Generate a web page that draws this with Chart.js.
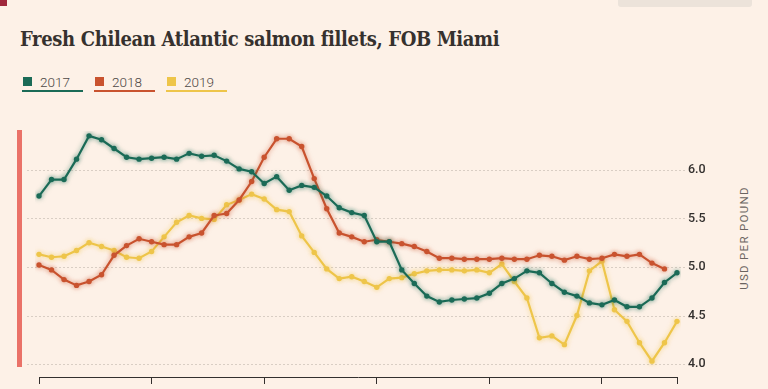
<!DOCTYPE html>
<html>
<head>
<meta charset="utf-8">
<script src="https://cdn.jsdelivr.net/npm/chart.js@4"></script>
<style>
  html, body { margin: 0; padding: 0; background: #fdf1e7; overflow: hidden; }
  body { width: 768px; height: 389px; position: relative; font-family: Roboto, "Noto Sans", sans-serif; }
  .wrap { position: absolute; left: 0; top: 0; width: 768px; height: 410px; }
  .title { position: absolute; left: 20px; top: 27px; font: bold 20px "DejaVu Serif Condensed", "DejaVu Serif", serif; color: #36312e; letter-spacing: -0.35px; white-space: nowrap; }
  .legend { position: absolute; left: 22px; top: 75px; display: flex; gap: 11px; }
  .legend .item { width: 61px; height: 15px; border-bottom: 2px solid; position: relative; }
  .legend .sw { position: absolute; left: 1px; top: 2px; width: 9px; height: 9px; }
  .legend .lab { position: absolute; left: 18px; top: -1px; font: 300 13.5px Roboto, sans-serif; color: #4d4845; }
  .bar { position: absolute; left: 17px; top: 130px; width: 5px; height: 237px; background: #ea7268; }
  .mark { position: absolute; left: 0; top: 0; width: 7px; height: 6px; background: #a0283c; }
  .btn { position: absolute; left: 618px; top: 0; width: 134px; height: 7px; background: #ece3da; border-radius: 0 0 3px 3px; }
  .ytitle { position: absolute; left: 744px; top: 238px; transform: translate(-50%, -50%) rotate(-90deg); font: 11.5px Roboto, sans-serif; letter-spacing: 1.3px; color: #6b6460; white-space: nowrap; }
</style>
</head>
<body>
<div class="mark"></div>
<div class="btn"></div>
<div class="title">Fresh Chilean Atlantic salmon fillets, FOB Miami</div>
<div class="legend" id="legend"></div>
<div class="bar"></div>
<div class="ytitle">USD PER POUND</div>
<div class="wrap"><canvas id="chart"></canvas></div>
<script>
const weeks = ["01","02","03","04","05","06","07","08","09","10","11","12","13","14","15","16","17","18","19","20",
  "21","22","23","24","25","26","27","28","29","30","31","32","33","34","35","36","37","38","39","40",
  "41","42","43","44","45","46","47","48","49","50","51","52"];

const tickWeeks = ["01", "10", "19", "28", "37", "46", "52"];
const tickLabels = ["01", "10", "19", "28", "37", "46", ""];
const yTicks = [4.0, 4.5, 5.0, 5.5, 6.0];

const seriesNames = ["2017", "2018", "2019"];
const seriesColors = ["#1b6b57", "#c9532f", "#eec54a"];

const s2017 = [5.73, 5.90, 5.90, 6.11, 6.35, 6.31, 6.22, 6.13, 6.11, 6.12, 6.13, 6.11, 6.17, 6.14, 6.15, 6.09,
  6.01, 5.98, 5.86, 5.93, 5.79, 5.84, 5.82, 5.73, 5.61, 5.56, 5.53, 5.26, 5.26, 4.97, 4.83, 4.70,
  4.64, 4.66, 4.67, 4.68, 4.73, 4.83, 4.88, 4.96, 4.94, 4.83, 4.74, 4.70, 4.63, 4.61, 4.66, 4.59,
  4.59, 4.68, 4.84, 4.94];
const s2018 = [5.02, 4.97, 4.87, 4.81, 4.85, 4.92, 5.12, 5.22, 5.29, 5.26, 5.23, 5.23, 5.31, 5.35, 5.53, 5.55,
  5.69, 5.88, 6.13, 6.32, 6.32, 6.24, 5.91, 5.60, 5.35, 5.31, 5.26, 5.28, 5.26, 5.24, 5.21, 5.16,
  5.09, 5.09, 5.08, 5.08, 5.08, 5.09, 5.08, 5.08, 5.12, 5.11, 5.07, 5.11, 5.08, 5.09, 5.13, 5.11,
  5.13, 5.04, 4.98, null];
const s2019 = [5.13, 5.10, 5.11, 5.17, 5.25, 5.21, 5.17, 5.10, 5.09, 5.16, 5.31, 5.46, 5.53, 5.50, 5.49, 5.64,
  5.69, 5.75, 5.70, 5.59, 5.57, 5.32, 5.15, 4.98, 4.88, 4.90, 4.85, 4.79, 4.88, 4.89, 4.93, 4.96,
  4.97, 4.97, 4.96, 4.97, 4.94, 5.03, 4.85, 4.68, 4.27, 4.29, 4.20, 4.50, 4.96, 5.06, 4.56, 4.44,
  4.22, 4.03, 4.22, 4.44];
const seriesData = [s2017, s2018, s2019];

// html legend
const legend = document.getElementById("legend");
seriesNames.forEach((name, i) => {
  const item = document.createElement("div");
  item.className = "item";
  item.style.borderColor = seriesColors[i];
  item.innerHTML = `<span class="sw" style="background:${seriesColors[i]}"></span><span class="lab">${name}</span>`;
  legend.appendChild(item);
});

const dottedGrid = {
  id: "dottedGrid",
  beforeDatasetsDraw(chart) {
    const y = chart.scales.y;
    const ctx = chart.ctx;
    ctx.save();
    ctx.strokeStyle = "#d9cec4";
    ctx.lineWidth = 1;
    ctx.setLineDash([2, 2]);
    yTicks.forEach(v => {
      const py = Math.round(y.getPixelForValue(v)) + 0.5;
      ctx.beginPath();
      ctx.moveTo(27, py);
      ctx.lineTo(686, py);
      ctx.stroke();
    });
    ctx.restore();
  }
};

const glow = {
  id: "glow",
  beforeDatasetDraw(chart, args) {
    const ctx = chart.ctx;
    ctx.save();
    ctx.shadowColor = seriesColors[args.index] + "99";
    ctx.shadowBlur = 5;
  },
  afterDatasetDraw(chart) {
    chart.ctx.restore();
  }
};

new Chart(document.getElementById("chart"), {
  type: "line",
  data: {
    labels: weeks,
    datasets: seriesNames.map((name, i) => ({
      label: name,
      data: seriesData[i],
      borderColor: seriesColors[i],
      backgroundColor: seriesColors[i],
      borderWidth: 2.2,
      pointRadius: 2.7,
      pointBorderWidth: 0,
      tension: 0,
      spanGaps: false
    }))
  },
  options: {
    responsive: true,
    maintainAspectRatio: false,
    animation: false,
    layout: { padding: { left: 39, top: 131, right: 31, bottom: 8 } },
    plugins: { legend: { display: false }, tooltip: { enabled: false } },
    scales: {
      x: {
        type: "category",
        offset: false,
        afterFit: s => { s.height = 25; },
        grid: { display: true, drawOnChartArea: false, drawTicks: true, tickLength: 7, color: "#33302e", lineWidth: 1 },
        border: { display: true, color: "#33302e", width: 1 },
        ticks: {
          autoSkip: false,
          maxRotation: 0,
          padding: 4,
          color: "#8a837e",
          font: { family: "Roboto", size: 11 },
          callback(value) {
            const k = tickWeeks.indexOf(weeks[value]);
            return k < 0 ? null : tickLabels[k];
          }
        }
      },
      y: {
        position: "right",
        min: 3.867,
        max: 6.4,
        afterFit: s => { s.width = 60; },
        afterBuildTicks: s => { s.ticks = yTicks.map(v => ({ value: v })); },
        grid: { display: false, drawTicks: false },
        border: { display: false },
        ticks: {
          padding: 11,
          color: "#33302e",
          font: { family: "Roboto", size: 12.5, weight: "500" },
          callback: v => Number(v).toFixed(1)
        }
      }
    }
  },
  plugins: [dottedGrid, glow]
});
</script>
</body>
</html>
